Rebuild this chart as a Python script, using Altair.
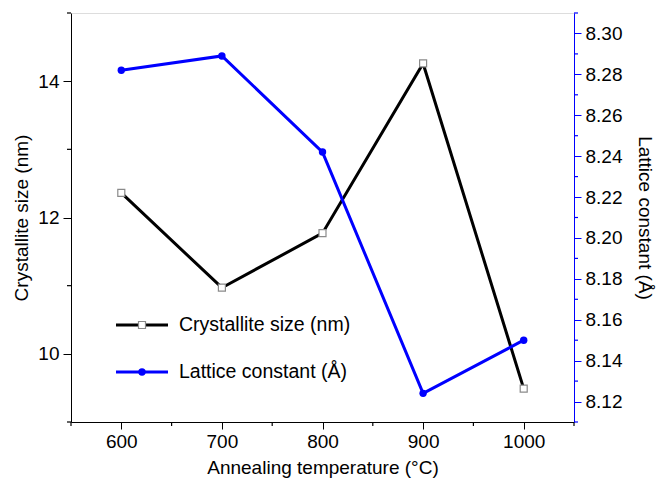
import altair as alt
import pandas as pd

# Annealing series
temps = [600, 700, 800, 900, 1000]
crystallite_nm = [12.36, 10.97, 11.77, 14.26, 9.49]
lattice_A = [8.282, 8.289, 8.242, 8.124, 8.150]

# Tick positions
x_major = [600, 700, 800, 900, 1000]
x_minor = [550, 650, 750, 850, 950, 1050]
left_major = [10, 12, 14]
left_minor = [9, 11, 13, 15]
right_major = [8.12, 8.14, 8.16, 8.18, 8.20, 8.22, 8.24, 8.26, 8.28, 8.30]
right_minor = [8.11, 8.13, 8.15, 8.17, 8.19, 8.21, 8.23, 8.25, 8.27, 8.29, 8.31]

legend_labels = ["Crystallite size (nm)", "Lattice constant (Å)"]

FONT = "Liberation Sans"
BLUE = "#0000FF"
FS = 19
W, H = 503, 409

df = pd.DataFrame({"T": temps, "size": crystallite_nm, "lat": lattice_A})

x_scale = alt.Scale(domain=[550, 1050], nice=False, zero=False)
x_axis = alt.Axis(values=x_major, format="d", title="Annealing temperature (°C)",
                  tickSize=7, labelPadding=3, titlePadding=7, grid=False,
                  labelFontSize=FS, titleFontSize=FS, titleFontWeight="normal",
                  domainColor="black", tickColor="black", labelColor="black",
                  titleColor="black")
x_enc = alt.X("T:Q", scale=x_scale, axis=x_axis)

left_scale = alt.Scale(domain=[9, 15], nice=False, zero=False)
right_scale = alt.Scale(domain=[8.11, 8.31], nice=False, zero=False)

left_axis = alt.Axis(values=left_major, format="d", title="Crystallite size (nm)",
                     orient="left", tickSize=8, labelPadding=4, titlePadding=6,
                     grid=False, labelFontSize=FS, titleFontSize=FS,
                     titleFontWeight="normal", domainColor="black", tickColor="black",
                     labelColor="black", titleColor="black")
right_axis = alt.Axis(values=right_major, title="Lattice constant (Å)", orient="right",
                      format=".2f", tickSize=7, labelPadding=4, titlePadding=13,
                      grid=False, labelFontSize=FS, titleFontSize=FS,
                      titleFontWeight="normal", domainColor=BLUE, tickColor=BLUE,
                      labelColor="black", titleColor="black")

base = alt.Chart(df)

size_line = base.mark_line(color="black", strokeWidth=3).encode(
    x=x_enc, y=alt.Y("size:Q", scale=left_scale, axis=left_axis))
size_pts = base.mark_point(shape="square", filled=True, fill="white", stroke="#8a8a8a",
                           strokeWidth=1.2, size=49, opacity=1).encode(
    x=alt.X("T:Q", scale=x_scale), y=alt.Y("size:Q", scale=left_scale))
left_minor_ticks = alt.Chart(pd.DataFrame({"v": left_minor})).mark_rule(
    color="black", strokeWidth=1.2).encode(
    y=alt.Y("v:Q", scale=left_scale), x=alt.value(-4), x2=alt.value(0))

lat_line = base.mark_line(color=BLUE, strokeWidth=3).encode(
    x=x_enc, y=alt.Y("lat:Q", scale=right_scale, axis=right_axis))
lat_pts = base.mark_circle(color=BLUE, size=55, opacity=1).encode(
    x=alt.X("T:Q", scale=x_scale), y=alt.Y("lat:Q", scale=right_scale))
right_minor_ticks = alt.Chart(pd.DataFrame({"v": right_minor})).mark_rule(
    color=BLUE, strokeWidth=1.2).encode(
    y=alt.Y("v:Q", scale=right_scale), x=alt.value(W), x2=alt.value(W + 4))

x_minor_ticks = alt.Chart(pd.DataFrame({"v": x_minor})).mark_rule(
    color="black", strokeWidth=1.2).encode(
    x=alt.X("v:Q", scale=x_scale), y=alt.value(H), y2=alt.value(H + 4))

# In-plot legend
leg_df = pd.DataFrame({"label": legend_labels})
leg_size_line = alt.Chart(leg_df.iloc[[0]]).mark_rule(color="black", strokeWidth=3).encode(
    x=alt.value(45), x2=alt.value(97), y=alt.value(312))
leg_size_pt = alt.Chart(leg_df.iloc[[0]]).mark_point(
    shape="square", filled=True, fill="white", stroke="#8a8a8a", strokeWidth=1.2,
    size=49, opacity=1).encode(x=alt.value(71), y=alt.value(312))
leg_size_txt = alt.Chart(leg_df.iloc[[0]]).mark_text(
    align="left", baseline="middle", fontSize=19.5, font=FONT, color="black").encode(
    x=alt.value(108), y=alt.value(312), text="label:N")
leg_lat_line = alt.Chart(leg_df.iloc[[1]]).mark_rule(color=BLUE, strokeWidth=3).encode(
    x=alt.value(45), x2=alt.value(97), y=alt.value(359))
leg_lat_pt = alt.Chart(leg_df.iloc[[1]]).mark_circle(color=BLUE, size=55, opacity=1).encode(
    x=alt.value(71), y=alt.value(359))
leg_lat_txt = alt.Chart(leg_df.iloc[[1]]).mark_text(
    align="left", baseline="middle", fontSize=19.5, font=FONT, color="black").encode(
    x=alt.value(108), y=alt.value(359), text="label:N")

left_group = alt.layer(size_line, left_minor_ticks, x_minor_ticks, size_pts)
right_group = alt.layer(lat_line, right_minor_ticks, lat_pts)
legend_group = alt.layer(leg_size_line, leg_size_pt, leg_size_txt,
                         leg_lat_line, leg_lat_pt, leg_lat_txt)

chart = alt.layer(left_group, right_group, legend_group).resolve_scale(
    y="independent"
).properties(
    width=W, height=H,
    autosize=alt.AutoSizeParams(type="none"),
    padding={"left": 71, "top": 13, "right": 657 - 71 - W, "bottom": 481 - 13 - H},
).configure_view(
    stroke="black", strokeWidth=1.5
).configure_axis(
    labelFont=FONT, titleFont=FONT, domainWidth=1.5, tickWidth=1.2
).configure(background="white")

chart.save("out.html", embed_options={"renderer": "svg", "actions": False})
